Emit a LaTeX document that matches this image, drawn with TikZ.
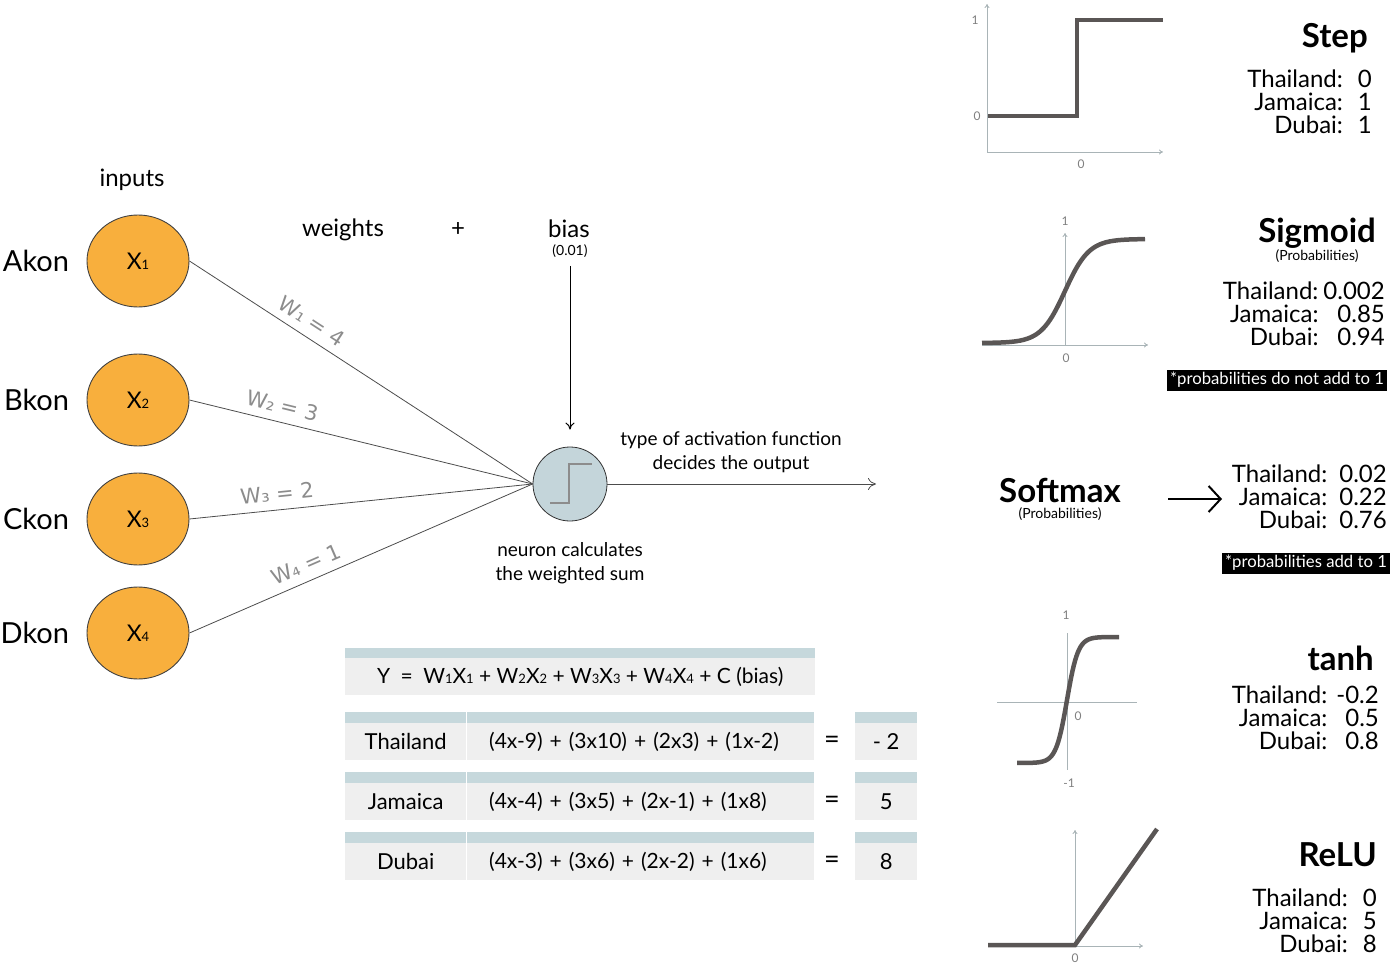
\documentclass[tikz,border=0pt]{standalone}
\usepackage{fontspec}
\setmainfont{Lato}
\newfontfamily\weightfont{DejaVu Sans}
\usetikzlibrary{shapes.geometric,arrows.meta,positioning}

\definecolor{inputorange}{HTML}{F8AF3D}
\definecolor{neuronblue}{HTML}{C4D5DA}
\definecolor{bandblue}{HTML}{C6D8DC}
\definecolor{cellgrey}{HTML}{EFEFEF}
\definecolor{curvegrey}{HTML}{5A5655}
\definecolor{axisgrey}{HTML}{A9B4B7}

\newcommand{\fsz}[2]{\fontsize{#1}{#2}\selectfont}
\newcommand{\idx}[1]{{\fsz{13}{13}#1}}
\newcommand{\countryvals}[4]{%
  \begin{tabular}{@{}r@{\hspace{#1}}r@{}}
    Thailand: & #2\\[-1.5pt]
    Jamaica: & #3\\[-1.5pt]
    Dubai: & #4
  \end{tabular}}

\tikzset{
  inputnode/.style={ellipse, draw=black!75, fill=inputorange, line width=0.9pt,
    minimum width=102pt, minimum height=92pt, inner sep=0pt, font=\fsz{23}{23}},
  namelabel/.style={font=\fsz{29}{29}},
  headlabel/.style={font=\fsz{24}{24}},
  weightlabel/.style={sloped, above=5pt, text=black!45, font=\weightfont\fsz{21}{21}},
  notetext/.style={align=center, font=\fsz{19}{24}},
  link/.style={draw=black!70, line width=0.8pt},
  cellbox/.style={fill=cellgrey, anchor=north west, minimum height=37pt,
    inner sep=0pt, font=\fsz{22}{22}},
  axis/.style={draw=axisgrey, line width=0.9pt},
  curve/.style={draw=curvegrey, line width=4.5pt},
  ticklabel/.style={text=black!50, font=\fsz{12}{12}},
  titlelabel/.style={anchor=east, inner sep=0pt, font=\bfseries\fsz{33}{33}},
  valuelabel/.style={anchor=east, inner sep=0pt, font=\fsz{24}{23.5}},
  problabel/.style={font=\fsz{14}{14}},
  notebox/.style={fill=black, text=white, inner xsep=3pt, inner ysep=0pt,
    minimum height=21pt, font=\fsz{16.7}{16.7}}
}

\begin{document}
\begin{tikzpicture}[x=1pt, y=-1pt]
\useasboundingbox (0,0) rectangle (1400,968);

% inputs
\foreach \i/\y/\name in {1/261/Akon, 2/400/Bkon, 3/519/Ckon, 4/633/Dkon} {
  \node[inputnode] (x\i) at (138,\y) {X\idx{\i}};
  \node[namelabel, left=14pt of x\i] (name\i) {\name};
}
\node[headlabel] (inputs) at (132,180) {inputs};
\node[headlabel] (weights) at (343,230) {weights};
\node[headlabel] (plus) at (458,230) {+};
\node[headlabel] (bias) at (569,229) {bias};
\node[font=\fsz{14}{14}] (biasval) at (570,251) {(0.01)};

% neuron
\node[circle, draw=black!80, fill=neuronblue, line width=0.8pt,
  minimum size=74pt, inner sep=0pt] (neuron) at (570,484) {};
\draw[black!45, line width=1.2pt] (550,503) -- (569,503) -- (569,464) -- (592,464);

\foreach \i/\w/\p in {1/{W₁ = 4}/0.33, 2/{W₂ = 3}/0.26, 3/{W₃ = 2}/0.26, 4/{W₄ = 1}/0.36}
  \draw[link] (x\i.east) -- node[weightlabel, pos=\p] {\w} (neuron.west);

\draw[-{To[length=7pt,width=9pt]}, line width=1pt, shorten <=5pt, shorten >=17pt]
  (biasval) -- (neuron);
\coordinate (output) at (876,484);
\draw[link, -{To[length=8pt,width=12pt]}] (neuron) -- (output);
\node[notetext] (activation) at (731,452) {type of activation function\\decides the output};
\node[notetext, below=18pt of neuron] (weightedsum) {neuron calculates\\the weighted sum};

% table
\node[cellbox, minimum width=470pt, font=\fsz{21}{21}] (formula) at (345,658)
  {Y\enspace=\enspace W\idx{1}X\idx{1} + W\idx{2}X\idx{2} + W\idx{3}X\idx{3} + W\idx{4}X\idx{4} + C (bias)};
\fill[bandblue] (formula.north west) rectangle ([yshift=10pt]formula.north east);

\foreach \y/\country/\terms/\result in {
    723/Thailand/{(4x-9) + (3x10) + (2x3) + (1x-2)}/{- 2},
    783/Jamaica/{(4x-4) + (3x5) + (2x-1) + (1x8)}/5,
    843/Dubai/{(4x-3) + (3x6) + (2x-2) + (1x6)}/8} {
  \node[cellbox, minimum width=121pt] (\country-name) at (345,\y) {\country};
  \node[cellbox, minimum width=347pt, text width=303pt, inner xsep=22pt, align=left,
    font=\fsz{21}{21}] (\country-terms) at (467,\y) {\terms};
  \node[cellbox, minimum width=62pt] (\country-result) at (855,\y) {\result};
  \node[font=\fsz{27}{27}] (\country-eq) at (832,{\y+19}) {=};
  \foreach \c in {name,terms,result}
    \fill[bandblue] (\country-\c.north west) rectangle ([yshift=11pt]\country-\c.north east);
}

% step
\draw[axis, {To[length=4pt,width=5pt]}-{To[length=4pt,width=5pt]}] (987,4) -- (987,152) -- (1163,152);
\draw[curve] (988,116) -- (1077,116) -- (1077,20) -- (1163,20);
\node[ticklabel] at (975,20) {1};
\node[ticklabel] at (977,116) {0};
\node[ticklabel] at (1081,164) {0};
\node[titlelabel] (step) at (1368,38) {Step};
\node[valuelabel] (stepvals) at (1372,105) {\countryvals{15pt}{0}{1}{1}};

% sigmoid
\draw[axis, -{To[length=4pt,width=5pt]}] (1065,345) -- (1065,233);
\draw[axis, -{To[length=4pt,width=5pt]}] (982,345) -- (1148,345);
\draw[curve] plot[domain=982:1145, samples=80] (\x, {343-104/(1+exp(-(\x-1065)/12))});
\node[ticklabel] at (1065,221) {1};
\node[ticklabel] at (1066,358) {0};
\node[titlelabel] (sigmoid) at (1376,233) {Sigmoid};
\node[problabel] (sigmoidprob) at (1317,256) {(Probabilities)};
\node[valuelabel] (sigmoidvals) at (1385,317) {\countryvals{5pt}{0.002}{0.85}{0.94}};
\node[notebox] (sigmoidnote) at (1277,380) {*probabilities do not add to 1};

% softmax
\node[font=\bfseries\fsz{33}{33}] (softmax) at (1060,490) {Softmax};
\node[problabel] (softmaxprob) at (1060,514) {(Probabilities)};
\coordinate (smfrom) at (1168,499);
\coordinate (smto) at (1222,499);
\draw[line width=2pt, -{Straight Barb[length=12pt,width=26pt,line width=2pt]}] (smfrom) -- (smto);
\node[valuelabel] (softmaxvals) at (1387,500) {\countryvals{12pt}{0.02}{0.22}{0.76}};
\node[notebox] (softmaxnote) at (1306,563) {*probabilities add to 1};

% tanh
\draw[axis] (1067,633) -- (1067,770);
\draw[axis] (997,702) -- (1137,702);
\draw[curve] plot[domain=1017:1119, samples=80] (\x, {700-63*tanh((\x-1067)/11)});
\node[ticklabel] at (1066,615) {1};
\node[ticklabel] at (1078,716) {0};
\node[ticklabel] at (1069,783) {-1};
\node[titlelabel] (tanh) at (1374,658) {tanh};
\node[valuelabel] (tanhvals) at (1379,721) {\countryvals{9pt}{-0.2}{0.5}{0.8}};

% relu
\draw[axis, {To[length=4pt,width=5pt]}-{To[length=4pt,width=5pt]}] (1075,830) -- (1075,946) -- (1143,946);
\draw[axis] (988,946) -- (1075,946);
\draw[curve] (988,945) -- (1075,945) -- (1157,829);
\node[ticklabel] at (1075,958) {0};
\node[titlelabel] (relu) at (1377,855) {ReLU};
\node[valuelabel] (reluvals) at (1377,924) {\countryvals{15pt}{0}{5}{8}};
\end{tikzpicture}
\end{document}
